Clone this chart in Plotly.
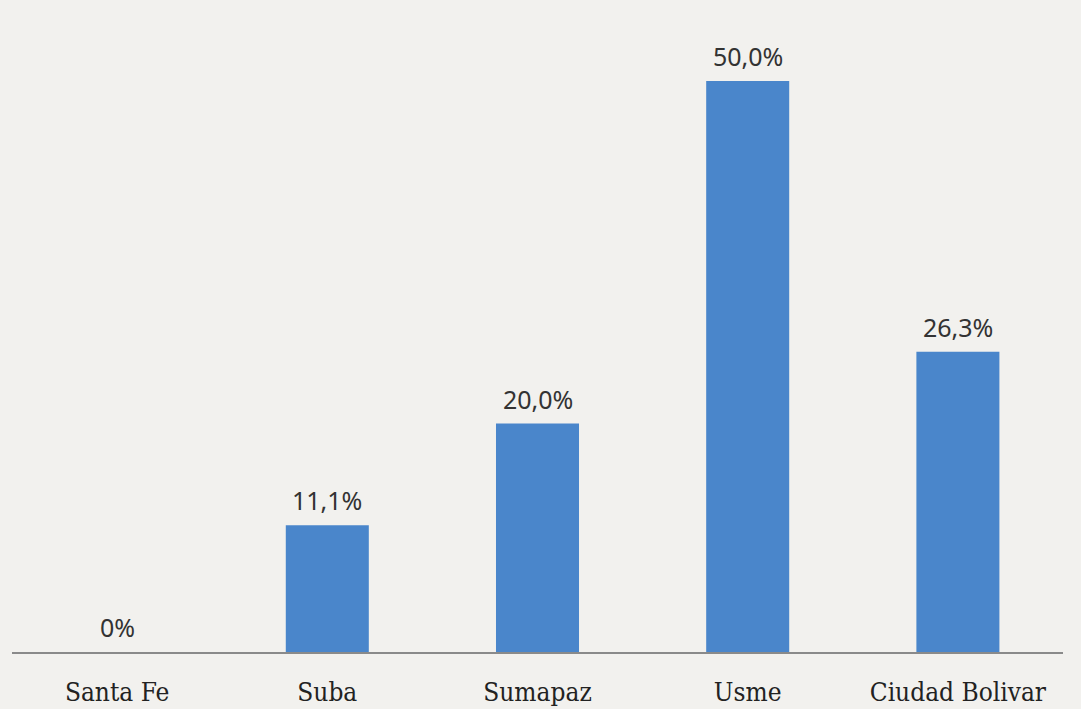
import plotly.graph_objects as go

categories = ["Santa Fe", "Suba", "Sumapaz", "Usme", "Ciudad Bolivar"]
values = [0, 11.1, 20.0, 50.0, 26.3]
value_labels = ["0%", "11,1%", "20,0%", "50,0%", "26,3%"]

BG = "#f2f1ee"

fig = go.Figure(go.Bar(
    x=categories,
    y=values,
    marker=dict(color="#4a86cb", line=dict(width=0)),
    width=0.395,
    hoverinfo="skip",
))

for c, v, t in zip(categories, values, value_labels):
    fig.add_annotation(
        x=c, y=v, text=t, showarrow=False,
        yanchor="bottom", yshift=6,
        font=dict(family="Noto Sans", size=25, color="#333333"),
    )

fig.update_layout(
    width=1081,
    height=709,
    margin=dict(l=12, r=18, t=0, b=57),
    paper_bgcolor=BG,
    plot_bgcolor=BG,
    showlegend=False,
)
fig.update_xaxes(
    range=[-0.5, 4.5],
    showline=True,
    linecolor="#8a8a8a",
    linewidth=1.5,
    showgrid=False,
    ticks="",
    ticklabelstandoff=16,
    tickfont=dict(family="DejaVu Serif Condensed, DejaVu Serif", size=26, color="#222222"),
)
fig.update_yaxes(
    range=[0, 57.09],
    visible=False,
    showgrid=False,
    zeroline=False,
)

fig.write_html(
    "out.html",
    config={"displayModeBar": False},
    post_script="document.body.style.margin='0';document.body.style.background='%s';" % BG,
)
